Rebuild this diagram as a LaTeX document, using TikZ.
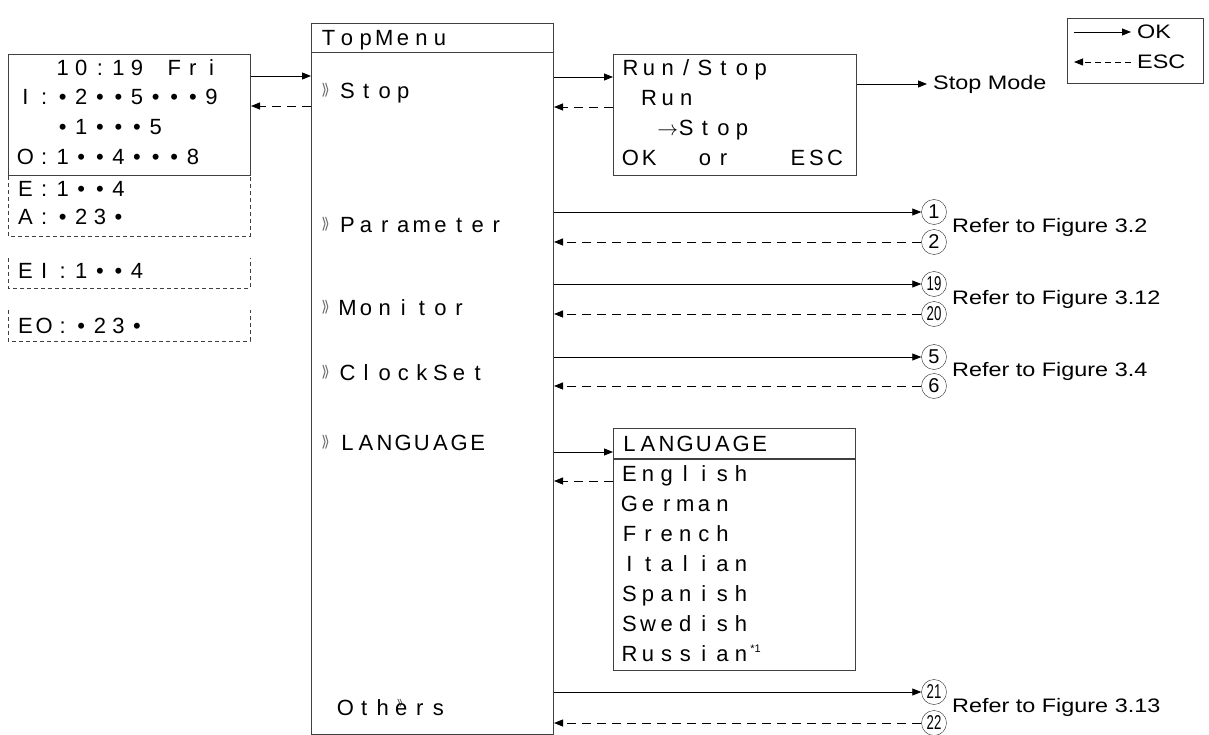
\documentclass[tikz,border=0pt]{standalone}
\usepackage{fontspec,graphicx}
\setmainfont{Liberation Sans}
\newfontfamily\lcdfont{Liberation Sans}
\newfontfamily\labelfont[FakeStretch=1.2]{Liberation Sans}
\usetikzlibrary{arrows.meta}
\newlength\lcdw \setlength\lcdw{18.6pt}
\makeatletter
\newcommand\lcd[1]{\@tfor\lcd@c:=#1\do{\makebox[\lcdw][c]{\lcd@c}}}
\makeatother
\newcommand\lcdto{$\rightarrow$}
\newcommand\mk{\makebox[16pt][l]{\raisebox{-1pt}{\color{black!60}\scalebox{.55}[1.6]{»}}}}
\newcommand\markede{\rlap{\hspace{2pt}\raisebox{7pt}{\color{black!70}\scalebox{.45}[.9]{»}}}e}

\begin{document}
\begin{tikzpicture}[x=1pt,y=-1pt,>={Triangle[length=9pt,width=7pt]},
  box/.style={draw=black!75,line width=1pt,inner sep=0,anchor=north west},
  sep/.style={draw=black!75,line width=1pt},
  row/.style={inner sep=0,anchor=base west,font=\lcdfont\fontsize{22}{26}\selectfont},
  lbl/.style={inner sep=0,anchor=west,font=\labelfont\fontsize{19.5}{23}\selectfont},
  num/.style={draw=black!85,circle,minimum size=25pt,inner sep=0,font=\fontsize{20}{20}\selectfont},
  ok/.style={->,line width=.8pt},
  esc/.style={->,line width=.8pt,dash pattern=on 9pt off 6pt},
  part/.style={draw=black!75,line width=.8pt,dash pattern=on 4pt off 3pt}]
\useasboundingbox (0,0) rectangle (1209,735);

% status screen
\node[box,minimum width=242pt,minimum height=121pt] (clock) at (8,54) {};
\draw[part] (clock.south west) -- ++(0,60) -- ++(242,0) -- ++(0,-60);
\draw[part] (8,258) -- (8,288) -- (250,288) -- (250,258);
\draw[part] (8,310) -- (8,341) -- (250,341) -- (250,310);
\node[row] (c1) at (16,76) {\lcd{~~10:19~Fri}};
\node[row] (c2) at (16,105) {\lcd{I:•2••5•••9}};
\node[row] (c3) at (16,135) {\lcd{~~•1•••5}};
\node[row] (c4) at (16,165) {\lcd{O:1••4•••8}};
\node[row] (c5) at (16,197) {\lcd{E:1••4}};
\node[row] (c6) at (16,225) {\lcd{A:•23•}};
\node[row] (c7) at (16,278) {\lcd{EI:1••4}};
\node[row] (c8) at (16,333) {\lcd{EO:•23•}};

% top menu
\node[box,minimum width=242pt,minimum height=711pt] (menu) at (311,23) {};
\draw[sep] ([yshift=-30pt]menu.north west) -- ([yshift=-30pt]menu.north east);
\node[row] (mhead) at (319,46) {\lcd{TopMenu}};
\node[row] (mstop) at (322,99) {\mk\lcd{Stop}};
\node[row] (mpar) at (322,233) {\mk\lcd{Parameter}};
\node[row] (mmon) at (322,315) {\mk\lcd{Monitor}};
\node[row] (mclk) at (322,380) {\mk\lcd{ClockSet}};
\node[row] (mlang) at (322,450) {\mk\lcd{LANGUAGE}};
\node[row] (moth) at (336,715) {\lcd{Oth\markede rs}};

% run/stop screen
\node[box,minimum width=243pt,minimum height=121pt] (runstop) at (613,54) {};
\node[row] (r1) at (621,76) {\lcd{Run/Stop}};
\node[row] (r2) at (621,106) {\lcd{~Run}};
\node[row] (r3) at (621,136) {\lcd{~~\lcdto Stop}};
\node[row] (r4) at (621,166) {\lcd{OK~~or~~~ESC}};
\node[lbl] (stopmode) at (933,84) {Stop Mode};

% language screen
\node[box,minimum width=242pt,minimum height=242pt] (lang) at (613,428) {};
\draw[sep,line width=1.6pt] ([yshift=-31pt]lang.north west) -- ([yshift=-31pt]lang.north east);
\node[row] (l0) at (620,451) {\lcd{LANGUAGE}};
\node[row] (l1) at (620,481) {\lcd{English}};
\node[row] (l2) at (620,511) {\lcd{German}};
\node[row] (l3) at (620,541) {\lcd{French}};
\node[row] (l4) at (620,571) {\lcd{Italian}};
\node[row] (l5) at (620,601) {\lcd{Spanish}};
\node[row] (l6) at (620,631) {\lcd{Swedish}};
\node[row] (l7) at (620,661) {\lcd{Russian}\raisebox{9pt}{\fontsize{11}{11}\selectfont *1}};

% references
\node[num] (n1) at (934,212) {1};
\node[num] (n2) at (934,242) {2};
\node[num] (n19) at (934,284) {\scalebox{.66}[1]{19}};
\node[num] (n20) at (934,314) {\scalebox{.66}[1]{20}};
\node[num] (n5) at (934,357) {5};
\node[num] (n6) at (934,386) {6};
\node[num] (n21) at (934,692) {\scalebox{.66}[1]{21}};
\node[num] (n22) at (934,723) {\scalebox{.66}[1]{22}};
\node[lbl] (f32) at (952,227) {Refer to Figure 3.2};
\node[lbl] (f312) at (952,299) {Refer to Figure 3.12};
\node[lbl] (f34) at (952,371) {Refer to Figure 3.4};
\node[lbl] (f313) at (952,707) {Refer to Figure 3.13};

% legend
\node[box,minimum width=136pt,minimum height=65pt] (legend) at (1067,18) {};
\node[lbl] (lok) at (1137,32) {OK};
\node[lbl] (lesc) at (1137,62) {ESC};
\coordinate (lok0) at (1074,32);
\coordinate (lesc0) at (1074,62);

% arrow levels
\coordinate (okc) at (0,76);
\coordinate (escc) at (0,106);
\coordinate (oks) at (0,77);
\coordinate (escs) at (0,107);
\coordinate (okg) at (0,452);
\coordinate (escg) at (0,481);

\draw[ok] (clock.east |- okc) -- (menu.west |- okc);
\draw[esc] (menu.west |- escc) -- (clock.east |- escc);
\draw[ok] (menu.east |- oks) -- (runstop.west |- oks);
\draw[esc] (runstop.west |- escs) -- (menu.east |- escs);
\draw[ok] (runstop.east |- stopmode) -- ([xshift=-6pt]stopmode.west);
\draw[ok] (menu.east |- okg) -- (lang.west |- okg);
\draw[esc] (lang.west |- escg) -- (menu.east |- escg);
\foreach \a/\b in {n1/n2,n19/n20,n5/n6,n21/n22}{
  \draw[ok] (menu.east |- \a) -- (\a);
  \draw[esc] (\b) -- (menu.east |- \b);
}
\draw[ok] (lok0) -- ([xshift=-6pt]lok.west);
\draw[esc,dash pattern=on 6pt off 4pt] ([xshift=-6pt]lesc.west) -- (lesc0);
\end{tikzpicture}
\end{document}
